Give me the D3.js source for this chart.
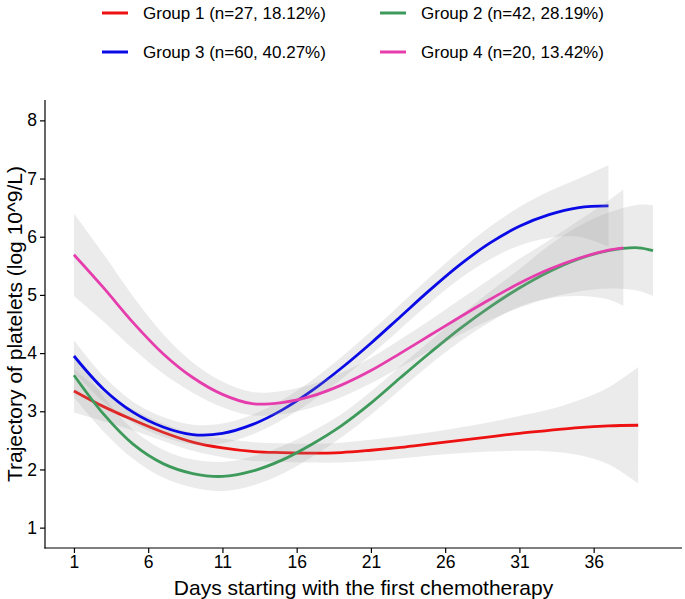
<!DOCTYPE html>
<html>
<head>
<meta charset="utf-8">
<script src="https://cdn.jsdelivr.net/npm/d3@7"></script>
<style>
  html, body { margin: 0; padding: 0; background: #fff; }
  svg { display: block; font-family: "Liberation Sans", Arial, sans-serif; }
</style>
</head>
<body>
<svg id="chart" width="685" height="599"></svg>
<script>
// ---- data ----
const groupNames = ["Group 1 (n=27, 18.12%)", "Group 2 (n=42, 28.19%)", "Group 3 (n=60, 40.27%)", "Group 4 (n=20, 13.42%)"];
const groupColors = ["#EE1111", "#3D9A5B", "#0A0AE6", "#E63DAD"];
const xTicks = [1, 6, 11, 16, 21, 26, 31, 36];
const yTicks = [1, 2, 3, 4, 5, 6, 7, 8];

const daysG1 = [1,3,5,7,9,11,13,15,17,19,21,23,25,27,29,31,33,35,37,39];
const fitG1  = [3.35,3.08,2.85,2.64,2.47,2.37,2.31,2.29,2.28,2.29,2.33,2.38,2.44,2.50,2.56,2.62,2.67,2.72,2.75,2.76];
const loG1   = [2.98,2.83,2.67,2.49,2.32,2.21,2.15,2.13,2.12,2.12,2.15,2.19,2.24,2.28,2.31,2.32,2.31,2.25,2.09,1.76];
const hiG1   = [3.72,3.33,3.03,2.79,2.62,2.53,2.47,2.45,2.44,2.46,2.51,2.57,2.64,2.72,2.81,2.92,3.03,3.19,3.41,3.76];

const daysG2 = [1,3,5,7,9,11,13,15,17,19,21,23,25,27,29,31,33,35,37,39,40];
const fitG2  = [3.62,2.95,2.43,2.10,1.93,1.88,1.97,2.16,2.43,2.75,3.14,3.58,4.01,4.42,4.79,5.12,5.40,5.62,5.76,5.81,5.76];
const loG2   = [3.24,2.65,2.18,1.86,1.69,1.63,1.72,1.92,2.21,2.55,2.94,3.38,3.81,4.20,4.53,4.80,4.95,5.06,5.11,5.07,4.98];
const hiG2   = [4.00,3.25,2.68,2.34,2.17,2.13,2.22,2.40,2.65,2.95,3.34,3.78,4.21,4.64,5.05,5.44,5.85,6.18,6.41,6.55,6.54];

const daysG3 = [1,3,5,7,9,11,13,15,17,19,21,23,25,27,29,31,33,35,37];
const fitG3  = [3.95,3.38,2.98,2.73,2.60,2.62,2.77,3.02,3.35,3.74,4.17,4.63,5.09,5.52,5.89,6.18,6.38,6.50,6.53];
const loG3   = [3.68,3.16,2.80,2.56,2.43,2.45,2.60,2.85,3.17,3.55,3.97,4.42,4.87,5.28,5.61,5.85,5.98,6.00,5.83];
const hiG3   = [4.22,3.60,3.16,2.90,2.77,2.79,2.94,3.19,3.53,3.93,4.37,4.84,5.31,5.76,6.17,6.51,6.78,7.00,7.23];

const daysG4 = [1,3,5,7,9,11,13,15,17,19,21,23,25,27,29,31,33,35,37,38];
const fitG4  = [5.69,5.12,4.52,3.99,3.58,3.29,3.13,3.15,3.26,3.45,3.70,4.00,4.31,4.62,4.92,5.20,5.44,5.63,5.77,5.81];
const loG4   = [4.98,4.54,4.07,3.65,3.32,3.07,2.93,2.95,3.06,3.24,3.48,3.76,4.05,4.32,4.57,4.78,4.94,4.98,4.92,4.81];
const hiG4   = [6.40,5.70,4.97,4.33,3.84,3.51,3.33,3.35,3.46,3.66,3.92,4.24,4.57,4.92,5.27,5.62,5.94,6.28,6.62,6.81];

const groups = [
  {days: daysG1, fit: fitG1, lo: loG1, hi: hiG1},
  {days: daysG2, fit: fitG2, lo: loG2, hi: hiG2},
  {days: daysG3, fit: fitG3, lo: loG3, hi: hiG3},
  {days: daysG4, fit: fitG4, lo: loG4, hi: hiG4}
];

// ---- layout ----
const svg = d3.select("#chart");
const mLeft = 45, mRight = 682, mTop = 100, mBottom = 548;

const x = d3.scaleLinear().domain([-0.95, 41.95]).range([mLeft, mRight]);
const y = d3.scaleLinear().domain([0.65, 8.35]).range([mBottom, mTop]);

const curve = d3.curveCatmullRom.alpha(0.5);

const plot = svg.append("g");
groups.forEach((g, gi) => {
  const pts = g.days.map((d, i) => ({d, f: g.fit[i], lo: g.lo[i], hi: g.hi[i]}));
  plot.append("path")
    .datum(pts)
    .attr("fill", "#999999")
    .attr("fill-opacity", 0.2)
    .attr("d", d3.area().curve(curve).x(p => x(p.d)).y0(p => y(p.lo)).y1(p => y(p.hi)));
  plot.append("path")
    .datum(pts)
    .attr("fill", "none")
    .attr("stroke", groupColors[gi])
    .attr("stroke-width", 2.8)
    .attr("d", d3.line().curve(curve).x(p => x(p.d)).y(p => y(p.f)));
});

// ---- axes ----
const xAxis = svg.append("g")
  .attr("transform", `translate(0,${mBottom})`)
  .call(d3.axisBottom(x).tickValues(xTicks).tickSize(5).tickPadding(3).tickSizeOuter(0));
const yAxis = svg.append("g")
  .attr("transform", `translate(${mLeft},0)`)
  .call(d3.axisLeft(y).tickValues(yTicks).tickSize(5).tickPadding(3).tickSizeOuter(0));

[xAxis, yAxis].forEach(a => {
  a.select(".domain").attr("stroke", "#000").attr("stroke-width", 1.2);
  a.selectAll(".tick line").attr("stroke", "#000").attr("stroke-width", 1.2);
  a.selectAll(".tick text").attr("fill", "#000").style("font-size", "17.5px")
    .style("font-family", "'Liberation Sans', Arial, sans-serif");
});
xAxis.select(".domain").attr("d", `M${mLeft - 0.6},0H${mRight}`);
yAxis.select(".domain").attr("d", `M0,${mTop}V${mBottom + 0.6}`);

// ---- axis titles ----
svg.append("text")
  .attr("x", (mLeft + mRight) / 2).attr("y", 595)
  .attr("text-anchor", "middle")
  .style("font-size", "21px").attr("fill", "#000")
  .text("Days starting with the first chemotherapy");

svg.append("text")
  .attr("transform", `translate(22,${(mTop + mBottom) / 2}) rotate(-90)`)
  .attr("text-anchor", "middle")
  .style("font-size", "21px").attr("fill", "#000")
  .text("Trajectory of platelets (log 10^9/L)");

// ---- legend ----
const legPos = [
  {kx: 102, tx: 143, cy: 13},
  {kx: 380, tx: 421, cy: 13},
  {kx: 102, tx: 143, cy: 52},
  {kx: 380, tx: 421, cy: 52}
];
const leg = svg.append("g");
groupNames.forEach((name, i) => {
  const p = legPos[i];
  leg.append("line")
    .attr("x1", p.kx).attr("x2", p.kx + 26)
    .attr("y1", p.cy).attr("y2", p.cy)
    .attr("stroke", groupColors[i]).attr("stroke-width", 3);
  leg.append("text")
    .attr("x", p.tx).attr("y", p.cy)
    .attr("dy", "0.35em")
    .style("font-size", "17px").attr("fill", "#000")
    .text(name);
});
</script>
</body>
</html>
